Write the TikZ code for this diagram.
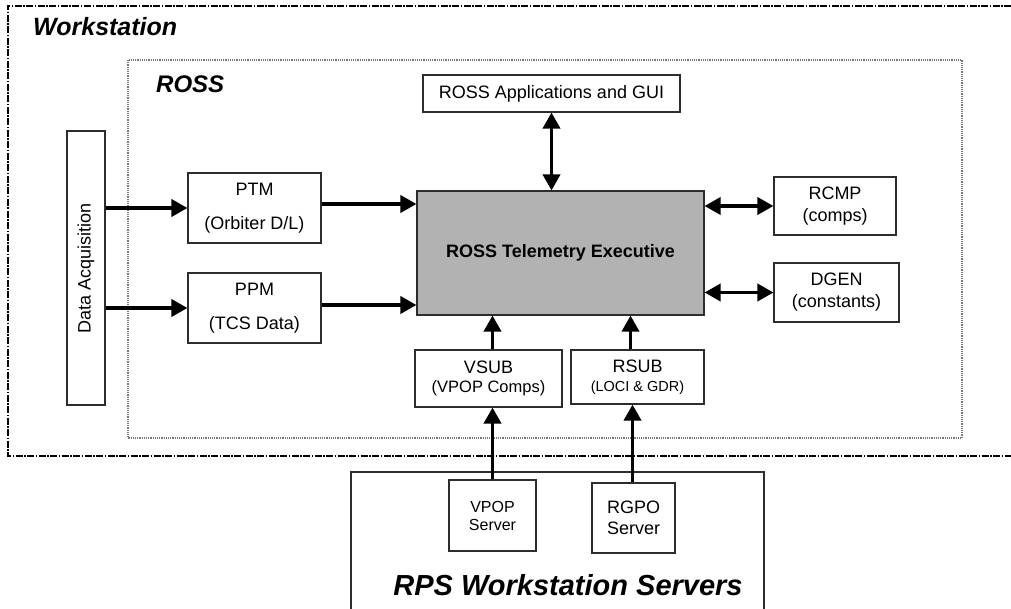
\documentclass[tikz,border=0pt]{standalone}
\usepackage{fontspec}
\setmainfont{Liberation Sans}
\usetikzlibrary{arrows.meta}

\definecolor{telegray}{RGB}{178,178,178}
\definecolor{boxline}{RGB}{45,45,45}
\definecolor{rossline}{RGB}{120,120,120}

\tikzset{
  box/.style={draw=boxline, line width=1.1pt, rectangle, inner sep=0pt, align=center,
    font=\fontsize{18}{21}\selectfont},
  title/.style={font=\fontsize{25}{30}\selectfont\bfseries\itshape, inner sep=0pt},
  flow/.style={line width=3.6pt, -{Triangle[length=16pt,width=17pt]}},
  flowboth/.style={line width=3.6pt, {Triangle[length=16pt,width=17pt]}-{Triangle[length=16pt,width=17pt]}},
}

\begin{document}
\begin{tikzpicture}[x=1pt, y=-1pt]
            \useasboundingbox (0,0) rectangle (1011,609);

            % Draw the workstation and ROSS frames
            \draw[line width=1.8pt, dash pattern=on 7pt off 1.5pt on 1.5pt off 1.5pt]
              (1011,6) -- (8,6) -- (8,456) -- (1011,456);
            \node[title, anchor=west] (wstitle) at (33,27) {Workstation};

            \draw[rossline, line width=1.2pt, dash pattern=on 1.2pt off 1pt] (128,60) rectangle (962,438);
            \node[title, font=\fontsize{24}{28}\selectfont\bfseries\itshape, anchor=west] (rosstitle) at (156,84) {ROSS};

            % Draw the RPS servers frame
            \draw[boxline, line width=1.1pt] (351,609) -- (351,472) -- (764,472) -- (764,609);
            \node[title, font=\fontsize{29}{34}\selectfont\bfseries\itshape] (rpstitle) at (568,585) {RPS Workstation Servers};

            % Draw the boxes
            \node[box, minimum width=38pt, minimum height=274pt] (da) at (86,268) {\rotatebox{90}{Data Acquisition}};

            \node[box, minimum width=133pt, minimum height=70pt] (ptm) at (254.5,208) {PTM\\[13pt](Orbiter D/L)};
            \node[box, minimum width=133pt, minimum height=70pt] (ppm) at (254.5,308) {PPM\\[13pt](TCS Data)};

            \node[box, fill=telegray, minimum width=287pt, minimum height=124pt,
              font=\fontsize{18}{21}\selectfont\bfseries] (tele) at (560.5,253) {ROSS Telemetry Executive};

            \node[box, minimum width=257pt, minimum height=37pt] (apps) at (551.5,93.5) {ROSS Applications and GUI};

            \node[box, minimum width=122pt, minimum height=58pt] (rcmp) at (835,206) {RCMP\\[1pt](comps)};
            \node[box, minimum width=125pt, minimum height=59pt] (dgen) at (836.5,292.5) {DGEN\\[1pt](constants)};

            \node[box, minimum width=147pt, minimum height=57pt] (vsub) at (488.5,378.5)
              {VSUB\\[-2pt]{\fontsize{16.5}{19}\selectfont (VPOP Comps)}};
            \node[box, minimum width=133pt, minimum height=54pt] (rsub) at (637.5,377)
              {RSUB\\[-2pt]{\fontsize{14.5}{17}\selectfont (LOCI \& GDR)}};

            \node[box, minimum width=87pt, minimum height=71pt, font=\fontsize{16}{18}\selectfont] (vpop) at (492.5,515.5) {VPOP\\Server};
            \node[box, minimum width=83pt, minimum height=70pt] (rgpo) at (633.5,518) {RGPO\\Server};

            % Draw the connectors
            \draw[flow] (da.east |- ptm.west) -- (ptm.west);
            \draw[flow] (da.east |- ppm.west) -- (ppm.west);
            \draw[flow] ([yshift=4pt]ptm.east) -- ([yshift=4pt]ptm.east -| tele.west);
            \draw[flow] ([yshift=3pt]ppm.east) -- ([yshift=3pt]ppm.east -| tele.west);

            \draw[flowboth] (apps.south) -- (apps.south |- tele.north);
            \draw[flowboth] (rcmp.west -| tele.east) -- (rcmp.west);
            \draw[flowboth] (dgen.west -| tele.east) -- (dgen.west);

            \draw[flow] (vsub.north -| vpop.north) -- (tele.south -| vpop.north);
            \draw[flow] ([xshift=-3pt]rsub.north -| rgpo.north) -- ([xshift=-3pt]tele.south -| rgpo.north);
            \draw[flow] (vpop.north) -- (vsub.south -| vpop.north);
            \draw[flow] ([xshift=-1pt]rgpo.north) -- ([xshift=-1pt]rsub.south -| rgpo.north);

\end{tikzpicture}
\end{document}
